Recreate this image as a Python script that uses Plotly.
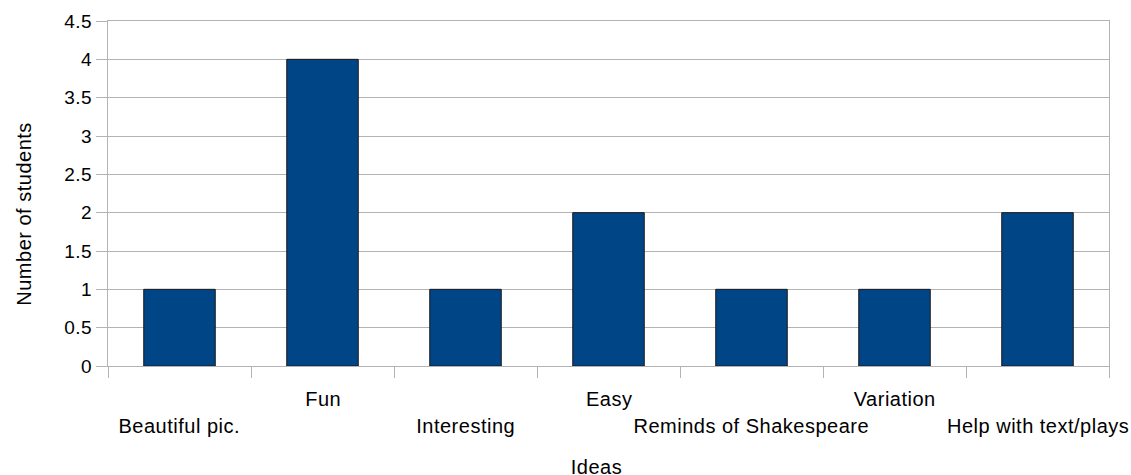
import plotly.graph_objects as go

# Survey results: ideas mentioned and how many students mentioned each
ideas = ["Beautiful pic.", "Fun", "Interesting", "Easy",
         "Reminds of Shakespeare", "Variation", "Help with text/plays"]
students = [1, 4, 1, 2, 1, 1, 2]
y_ticks = [0, 0.5, 1, 1.5, 2, 2.5, 3, 3.5, 4, 4.5]
y_tick_labels = ["0", "0.5", "1", "1.5", "2", "2.5", "3", "3.5", "4", "4.5"]

FONT = "Liberation Sans, Arial, sans-serif"
GRID = "#b3b3b3"
TXT = 20

fig = go.Figure(
    go.Bar(
        x=ideas,
        y=students,
        marker=dict(color="#004586", line=dict(color="#1a1a1a", width=1)),
        width=0.5,
        hoverinfo="x+y",
    )
)

# Category labels alternate between two rows so the long names do not collide
for i, name in enumerate(ideas):
    fig.add_annotation(
        x=name, xref="x", y=0, yref="paper",
        text=name, showarrow=False,
        yanchor="middle", yshift=-33 if i % 2 else -60,
        font=dict(family=FONT, size=TXT, color="#000000"),
    )

# Axis titles
fig.add_annotation(
    x=0.5, xref="paper", y=0, yref="paper",
    text="Ideas", showarrow=False, yanchor="middle",
    xshift=-12, yshift=-101,
    font=dict(family=FONT, size=TXT, color="#000000"),
)
fig.add_annotation(
    x=0, xref="paper", y=0.44, yref="paper",
    text="Number of students", showarrow=False, textangle=-90,
    xanchor="center", yanchor="middle", xshift=-84,
    font=dict(family=FONT, size=TXT, color="#000000"),
)

fig.update_layout(
    width=1131, height=475,
    margin=dict(l=108, r=22, t=21, b=109),
    paper_bgcolor="white", plot_bgcolor="white",
    showlegend=False,
    font=dict(family=FONT, size=TXT, color="#000000"),
    xaxis=dict(
        type="category",
        tickson="boundaries",
        ticks="outside", ticklen=11, tickcolor=GRID, tickwidth=1,
        showticklabels=False,
        showgrid=False, zeroline=False,
        showline=True, linecolor=GRID, linewidth=1, mirror=True,
        range=[-0.5, len(ideas) - 0.5],
    ),
    yaxis=dict(
        range=[0, 4.5],
        tickvals=y_ticks, ticktext=y_tick_labels,
        ticks="outside", ticklen=11, tickcolor=GRID, tickwidth=1,
        showgrid=True, gridcolor=GRID, gridwidth=1,
        zeroline=False,
        showline=True, linecolor=GRID, linewidth=1, mirror=True,
        tickfont=dict(family=FONT, size=19),
    ),
)

# Slightly open letter spacing for all chart text
post = """
var s = document.createElement('style');
s.textContent = '.js-plotly-plot .main-svg text { letter-spacing: 0.5px; }';
document.head.appendChild(s);
"""

fig.write_html("out.html", post_script=post)
